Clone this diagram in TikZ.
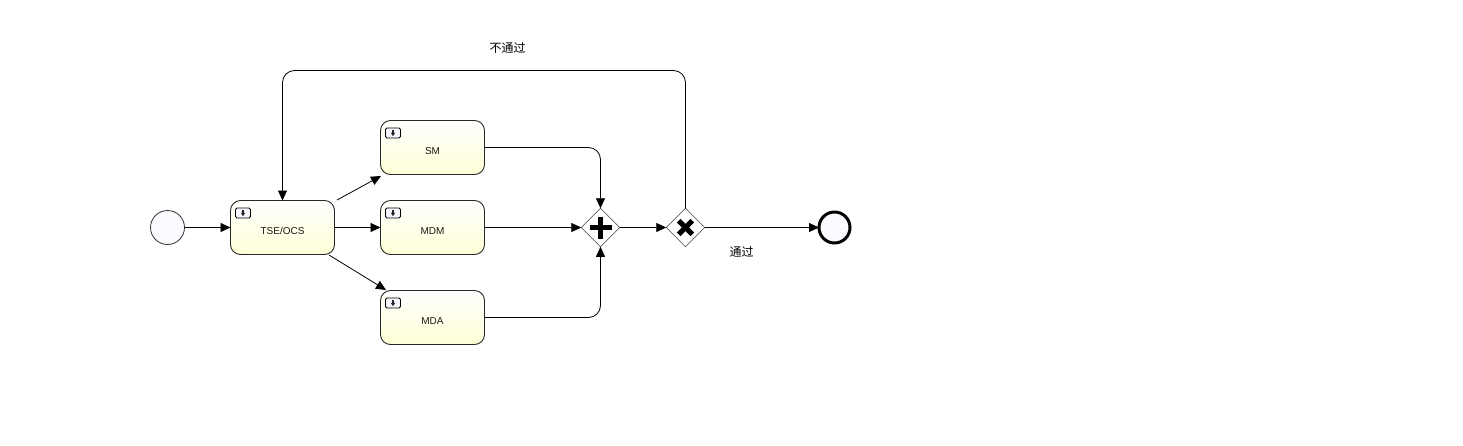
\documentclass[tikz,border=0pt]{standalone}
\usepackage{fontspec}
\setmainfont{Liberation Sans}
\newfontfamily\cjk{Noto Sans CJK SC}
\usetikzlibrary{arrows.meta,shapes.geometric,calc}
\newcommand{\tasklabel}[1]{\raisebox{-7pt}[0pt][0pt]{#1}}
\tikzset{
  x=1pt,y=-1pt,
  taskbox/.style={draw=black!85,line width=0.9pt,rounded corners=10pt,minimum width=104pt,minimum height=54pt,inner sep=0pt,outer sep=0pt,top color=white,bottom color=yellow!16,font=\fontsize{10}{12}\selectfont,text=black!90},
  iconbox/.style={draw=black,line width=0.8pt,rounded corners=1.5pt,minimum width=15pt,minimum height=10pt,inner sep=0pt,outer sep=0pt,fill=blue!3},
  flow/.style={draw=black,line width=0.8pt,-{Triangle[length=10pt,width=9pt]}},
  roundflow/.style={flow,rounded corners=12pt},
  startev/.style={circle,draw=black!80,line width=0.8pt,minimum size=34pt,inner sep=0pt,outer sep=0pt,fill=blue!2},
  endev/.style={circle,draw=black,line width=3pt,minimum size=31pt,inner sep=0pt,outer sep=0pt,fill=blue!2},
  gateway/.style={diamond,draw=black!75,line width=0.6pt,aspect=1,minimum width=38.5pt,minimum height=38.5pt,inner sep=0pt,outer sep=0pt,fill=white},
  gmark/.style={line width=4.3pt,draw=black},
  lbl/.style={font=\fontsize{12}{14}\selectfont\cjk,text=black,inner sep=0pt}
}
\begin{document}
\begin{tikzpicture}
\useasboundingbox[fill=white] (0,0) rectangle (1463,445);
\node[startev] (start) at (167.5,227.5) {};
\node[taskbox] (tse) at (282.5,227.5) {\tasklabel{TSE/OCS}};
\node[taskbox] (sm) at (432.5,147.5) {\tasklabel{SM}};
\node[taskbox] (mdm) at (432.5,227.5) {\tasklabel{MDM}};
\node[taskbox] (mda) at (432.5,317.5) {\tasklabel{MDA}};
\node[gateway] (par) at (600.5,227.5) {};
\node[gateway] (xor) at (685.5,227.5) {};
\node[endev] (end) at (834.5,227.5) {};
% task marker icons
\foreach \t in {tse,sm,mdm,mda}{
  \node[iconbox] (\t-icon) at ($(\t.north west)+(12.5,12.5)$) {};
  \fill[black!85] ($(\t-icon.center)+(-2.2,-0.2)$) -- ++(4.4,0) -- ++(-2.2,3.4) -- cycle;
  \fill[black!85] ($(\t-icon.center)+(-0.9,-3)$) rectangle ++(1.8,3);
}
% gateway marks
\draw[gmark] ($(par.center)+(-11,0)$) -- ($(par.center)+(11,0)$);
\draw[gmark] ($(par.center)+(0,-11)$) -- ($(par.center)+(0,11)$);
\draw[gmark,line width=5pt] ($(xor.center)+(-6.8,-6.8)$) -- ($(xor.center)+(6.8,6.8)$);
\draw[gmark,line width=5pt] ($(xor.center)+(6.8,-6.8)$) -- ($(xor.center)+(-6.8,6.8)$);
% free ends of the diagonal flows
\coordinate (tseA) at (337,200);
\coordinate (smIn) at (381,176);
\coordinate (tseB) at (329,255);
\coordinate (mdaIn) at (386,290);
\coordinate (loopR) at (685.5,70.5);
\coordinate (loopL) at (282.5,70.5);
% connectors
\draw[flow] (start) -- (tse);
\draw[flow] (tse) -- (mdm);
\draw[flow] (tseA) -- (smIn);
\draw[flow] (tseB) -- (mdaIn);
\draw[flow] (mdm) -- (par);
\draw[roundflow] (sm.east) -| (par.north);
\draw[roundflow] (mda.east) -| (par.south);
\draw[flow] (par) -- (xor);
\draw[flow] (xor) -- (end);
\draw[roundflow] (xor.north) -- (loopR) -- (loopL) -- (tse.north);
% labels
\node[lbl] (no) at (507.5,47.5) {不通过};
\node[lbl] (yes) at (741.5,251.5) {通过};
\end{tikzpicture}
\end{document}
